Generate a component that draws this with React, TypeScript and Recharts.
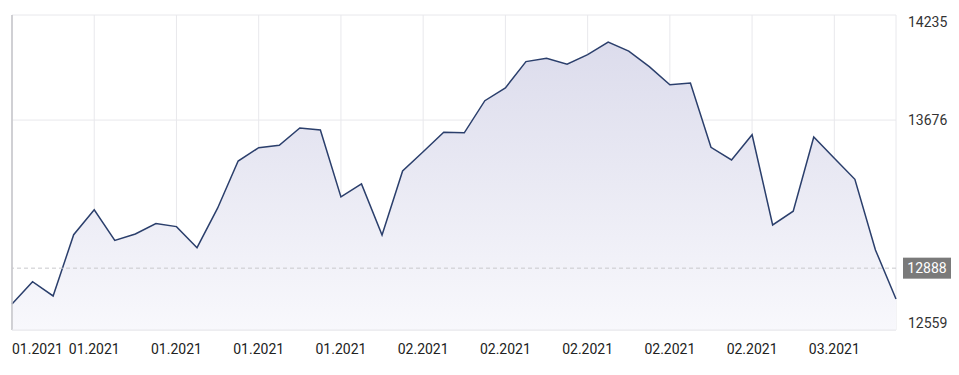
import React from 'react';
import {
  ComposedChart,
  Area,
  XAxis,
  YAxis,
  CartesianGrid,
  ReferenceLine,
} from 'recharts';

// closing values, one per trading day
const closes = [
  12697, 12816, 12740, 13066, 13199, 13036, 13070, 13125, 13109, 12997, 13207,
  13458, 13529, 13542, 13634, 13623, 13267, 13336, 13064, 13405, 13507, 13611,
  13608, 13779, 13847, 13987, 14005, 13973, 14024, 14091, 14043, 13960, 13864,
  13873, 13531, 13464, 13598, 13118, 13191, 13586, 13473, 13361, 12985, 12724,
];
const xTickIdx = [0, 4, 8, 12, 16, 20, 24, 28, 32, 36, 40];
const xTickLabels = [
  '01.2021', '01.2021', '01.2021', '01.2021', '01.2021', '02.2021',
  '02.2021', '02.2021', '02.2021', '02.2021', '03.2021',
];
const yTicks = [12559, 13676, 14235];
const lastPrice = 12888;

const data = closes.map((v, i) => ({ i, v }));

const FONT = 'Roboto, "Noto Sans", sans-serif';

function XTick({ x, y, payload, index }: any) {
  const label = xTickLabels[xTickIdx.indexOf(payload.value)] ?? '';
  return (
    <text
      x={x}
      y={354}
      textAnchor={payload.value === 0 ? 'start' : 'middle'}
      fontFamily={FONT}
      fontSize={14}
      fill="#222"
    >
      {label}
    </text>
  );
}

function YTick({ x, y, payload }: any) {
  let dy = 0;
  if (payload.value === yTicks[2]) dy = 7;
  if (payload.value === yTicks[0]) dy = -7;
  return (
    <text
      x={908}
      y={y + dy}
      dominantBaseline="central"
      textAnchor="start"
      fontFamily={FONT}
      fontSize={14}
      fill="#333"
    >
      {payload.value}
    </text>
  );
}

function PriceBadge({ viewBox }: any) {
  const bx = viewBox.x + viewBox.width + 7;
  const by = viewBox.y;
  return (
    <g>
      <rect x={bx} y={by - 10.5} width={48} height={21} fill="#7a7a7a" />
      <text
        x={bx + 24}
        y={by}
        dominantBaseline="central"
        textAnchor="middle"
        fontFamily={FONT}
        fontSize={14}
        fill="#fff"
      >
        {lastPrice}
      </text>
    </g>
  );
}

export default function App() {
  return (
    <div style={{ position: 'absolute', left: 0, top: 0, width: 959, height: 375, background: '#fff' }}>
      <ComposedChart
        width={959}
        height={375}
        data={data}
        margin={{ top: 15, right: 0, bottom: 15, left: 12 }}
      >
        <defs>
          <linearGradient id="areaFill" x1="0" y1="0" x2="0" y2="1">
            <stop offset="0%" stopColor="#dcdcec" />
            <stop offset="100%" stopColor="#f8f8fc" />
          </linearGradient>
        </defs>
        <CartesianGrid stroke="#e8e8ec" strokeWidth={1} />
        <XAxis
          dataKey="i"
          type="number"
          domain={[0, closes.length - 1]}
          ticks={xTickIdx}
          tick={<XTick />}
          tickLine={false}
          axisLine={{ stroke: '#e8e8ec' }}
          height={30}
          interval={0}
        />
        <YAxis
          orientation="right"
          domain={[yTicks[0], yTicks[2]]}
          ticks={yTicks}
          allowDataOverflow
          tick={<YTick />}
          tickLine={false}
          axisLine={false}
          width={63}
          interval={0}
        />
        <Area
          type="linear"
          dataKey="v"
          stroke="#2b3f6c"
          strokeWidth={1.5}
          fill="url(#areaFill)"
          fillOpacity={1}
          isAnimationActive={false}
          dot={false}
          activeDot={false}
        />
        <ReferenceLine x={0} stroke="#c4c4c8" strokeWidth={1.5} />
        <ReferenceLine
          y={lastPrice}
          stroke="#c8c8cc"
          strokeDasharray="4 3"
          label={<PriceBadge />}
        />
      </ComposedChart>
    </div>
  );
}
